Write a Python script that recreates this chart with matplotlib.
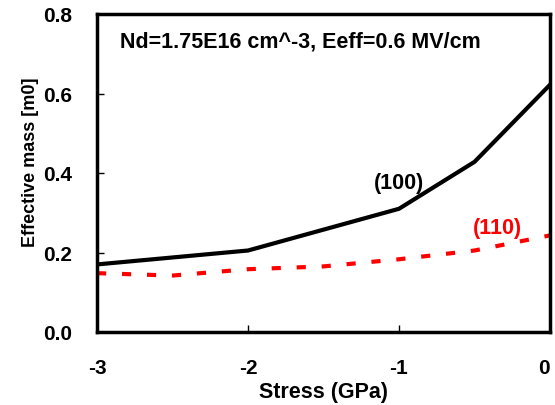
import matplotlib
matplotlib.use("Agg")
import matplotlib.pyplot as plt

# data
stress_100 = [-3, -2, -1, -0.5, 0]
mass_100 = [0.170, 0.205, 0.310, 0.428, 0.622]

stress_110 = [-3, -2.5, -2, -1.5, -1, -0.5, 0]
mass_110 = [0.148, 0.142, 0.158, 0.165, 0.183, 0.205, 0.243]

xticks = [-3, -2, -1, 0]
yticks = [0.0, 0.2, 0.4, 0.6, 0.8]

plt.rcParams['font.family'] = ['Liberation Sans', 'DejaVu Sans']
plt.rcParams['font.weight'] = 'bold'

fig = plt.figure(figsize=(5.55, 4.06), dpi=100)
ax = fig.add_axes([97 / 555, 1 - 333 / 406, 453 / 555, 318 / 406])

ax.plot(stress_100, mass_100, color='black', lw=3)
ax.plot(stress_110, mass_110, color='red', lw=3, ls=(0, (2.2, 3.8)))

ax.set_xlim(-3, 0)
ax.set_ylim(0, 0.8)
ax.set_xticks(xticks)
ax.set_yticks(yticks)
ax.set_xticklabels([str(t) for t in xticks])
ax.set_yticklabels(['%.1f' % t for t in yticks])
ax.tick_params(direction='in', length=5, width=1, labelsize=15)
ax.tick_params(axis='x', pad=19)
ax.tick_params(axis='y', pad=18)
# last x label sits against the right edge, as in the original
ax.get_xticklabels()[-1].set_horizontalalignment('right')
for s in ax.spines.values():
    s.set_linewidth(2.5)

ax.set_xlabel('Stress (GPa)', fontsize=15.5, fontweight='bold', va='center')
ax.xaxis.set_label_coords(0.5, -0.186)
ax.set_ylabel('Effective mass [m0]', fontsize=13, fontweight='bold',
              va='center', ha='center')
ax.yaxis.set_label_coords(-0.146, 0.538)

ax.text(0.05, 0.915, 'Nd=1.75E16 cm^-3, Eeff=0.6 MV/cm', transform=ax.transAxes,
        fontsize=15.5, fontweight='bold', va='center', ha='left')
ax.text(-1.0, 0.377, '(100)', fontsize=15.5, fontweight='bold', ha='center', va='center')
ax.text(-0.35, 0.264, '(110)', fontsize=15.5, fontweight='bold', color='red',
        ha='center', va='center')

fig.savefig('out.png', dpi=100)
